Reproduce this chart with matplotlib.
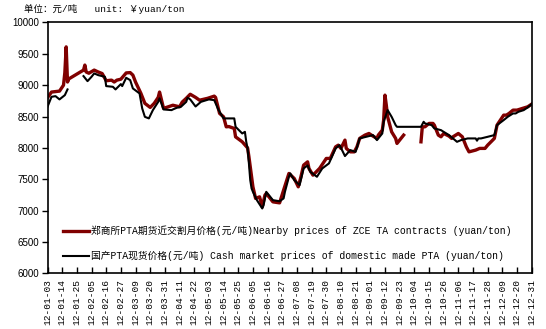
import numpy as np
import pandas as pd
import matplotlib
matplotlib.use('Agg')
import matplotlib.pyplot as plt
import matplotlib.dates as mdates

nan = np.nan

# 郑商所PTA期货近交割月价格
zce_dates = ['01-03','01-06','01-10','01-12','01-15','01-16','01-17','01-18','01-19','01-30',
             '01-31','02-01','02-03','02-07','02-10','02-13','02-16','02-20','02-22','02-24',
             '02-27','03-02','03-05','03-07','03-09','03-13','03-16','03-20','03-23','03-26',
             '03-27','03-28','03-30','04-06','04-11','04-13','04-16','04-19','04-23','04-26',
             '05-02','05-07','05-08','05-11','05-14','05-16','05-18','05-22','05-23','05-28',
             '06-01','06-02','06-05','06-07','06-10','06-12','06-14','06-15','06-20','06-25',
             '06-28','07-02','07-06','07-09','07-11','07-13','07-16','07-17','07-20','07-25',
             '07-30','08-02','08-06','08-08','08-10','08-13','08-14','08-17','08-20','08-22',
             '08-24','08-28','08-31','09-03','09-06','09-07','09-10','09-11','09-12','09-13',
             '09-14','09-17','09-20','09-21','09-24','09-26','10-01','10-09','10-10','10-12',
             '10-15','10-18','10-19','10-22','10-24','10-26','10-30','11-01','11-02','11-06',
             '11-09','11-12','11-14','11-19','11-22','11-26','11-28','12-03','12-05','12-10',
             '12-12','12-14','12-17','12-20','12-24','12-28','12-31']
zce_vals = [8800,8890,8900,8905,9000,9200,9610,9050,9100,9240,
            9320,9210,9190,9240,9210,9185,9070,9080,9050,9080,
            9095,9195,9200,9160,9050,8870,8710,8645,8710,8805,
            8890,8805,8630,8680,8655,8730,8790,8855,8805,8760,
            8790,8825,8805,8550,8495,8336,8340,8310,8176,8097,
            8000,7860,7380,7195,7220,7060,7247,7274,7140,7124,
            7327,7593,7512,7380,7540,7725,7778,7673,7566,7673,
            7832,7832,8017,8044,7992,8124,7992,7937,7937,8017,
            8151,8204,8230,8188,8151,8204,8283,8443,8841,8682,
            8495,8256,8151,8071,8151,8204,nan,8097,8336,8336,
            8390,8390,8363,8204,8177,8230,8188,8151,8177,8230,
            8177,8017,7937,7965,7992,7992,8044,8151,8363,8522,
            8522,8549,8602,8602,8629,8655,8698]

# 国产PTA现货价格
spot_dates = ['01-03','01-06','01-09','01-12','01-16','01-18','01-20','01-30','02-02','02-05',
              '02-07','02-10','02-15','02-16','02-21','02-23','02-27','02-28','03-02','03-05',
              '03-07','03-12','03-14','03-16','03-19','03-22','03-26','03-27','03-30','04-05',
              '04-06','04-09','04-12','04-16','04-17','04-19','04-23','04-27','05-03','05-07',
              '05-10','05-14','05-15','05-22','05-23','05-28','05-30','05-31','06-01','06-02',
              '06-03','06-04','06-05','06-08','06-12','06-13','06-15','06-20','06-25','06-28',
              '06-29','07-02','07-03','07-06','07-10','07-13','07-16','07-18','07-23','07-27',
              '08-01','08-06','08-09','08-13','08-17','08-21','08-24','08-27','09-03','09-06',
              '09-10','09-11','09-14','09-17','09-20','09-21','10-09','10-11','10-12','10-17',
              '10-19','10-24','10-26','10-30','11-02','11-05','11-08','11-13','11-19','11-20',
              '11-21','11-23','11-28','12-03','12-05','12-10','12-13','12-17','12-19','12-21',
              '12-25','12-28','12-31']
spot_vals = [8655,8814,8825,8773,8841,8932,nan,9144,9064,9133,
             9187,9160,9133,8985,8974,8932,9017,8985,9117,9080,
             8948,8868,8629,8495,8470,8602,8734,8790,8613,8602,
             8613,8640,8655,8734,8800,8773,8660,8734,8773,8761,
             8613,8470,8470,8470,8336,8230,8256,8097,7992,7753,
             7486,7354,7300,7167,7035,7088,7300,7167,7150,7195,
             7300,7540,7593,7486,7407,7673,7720,7619,7540,7673,
             7753,7992,8044,7870,7965,7937,8151,8167,8204,8124,
             8230,8416,8602,8495,8363,8336,8336,8416,8390,8363,
             8310,8283,8256,8204,8151,8097,8124,8151,8151,8115,
             8151,8151,8177,8204,8363,8443,8495,8549,8549,8575,
             8602,8645,8698]

zce_label = '郑商所PTA期货近交割月价格(元/吨)Nearby prices of ZCE TA contracts (yuan/ton)'
spot_label = '国产PTA现货价格(元/吨) Cash market prices of domestic made PTA (yuan/ton)'
unit_text = '单位：元/吨   unit: ￥yuan/ton'

mono = ['Liberation Mono', 'Noto Sans CJK SC']

zce_x = pd.to_datetime(['2012-' + d for d in zce_dates])
spot_x = pd.to_datetime(['2012-' + d for d in spot_dates])

fig = plt.figure(figsize=(5.46, 3.29), dpi=100)
ax = fig.add_axes([0.087, 0.169, 0.8868, 0.7629])

ax.plot(zce_x, zce_vals, color='#800000', lw=2.4, label=zce_label, zorder=2)
ax.plot(spot_x, spot_vals, color='black', lw=1.5, label=spot_label, zorder=3)

start = pd.Timestamp('2012-01-03')
end = pd.Timestamp('2012-12-31')
ax.set_xlim(start, end)
ax.set_ylim(6000, 10000)
ax.set_yticks(np.arange(6000, 10001, 500))

ticks = pd.date_range(start, end, freq='11D')
ax.set_xticks(ticks)
ax.xaxis.set_major_formatter(mdates.DateFormatter('%y-%m-%d'))
for lab in ax.get_xticklabels():
    lab.set_rotation(90)
    lab.set_family(mono)
    lab.set_fontsize(6.8)
for lab in ax.get_yticklabels():
    lab.set_family('Liberation Sans')
    lab.set_fontsize(7)

ax.tick_params(axis='x', direction='in', length=4, width=1, pad=4)
ax.tick_params(axis='y', direction='out', length=4, width=1, pad=2)
for sp in ax.spines.values():
    sp.set_linewidth(1.2)

leg = ax.legend(loc='lower left', bbox_to_anchor=(0.017, 0.022), frameon=False,
                prop={'family': mono, 'size': 7.0}, handlelength=2.7,
                handletextpad=0.2, labelspacing=1.5, borderaxespad=0.3)

fig.text(0.044, 0.972, unit_text, family=mono, fontsize=6.8, va='center', ha='left')

fig.savefig('out.png', dpi=100)
